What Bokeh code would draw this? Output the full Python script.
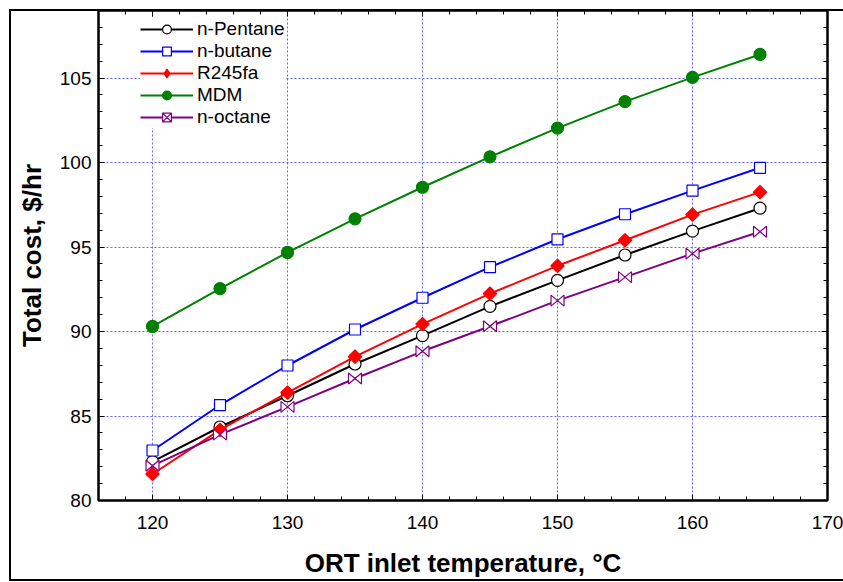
import math
from bokeh.plotting import figure
from bokeh.models import (FixedTicker, LinearAxis, Range1d, Legend, LegendItem)
from bokeh.embed import file_html
from bokeh.resources import INLINE

# ---- data ----
temps = [120, 125, 130, 135, 140, 145, 150, 155, 160, 165]
n_pentane = [82.3, 84.35, 86.2, 88.08, 89.76, 91.49, 93.03, 94.53, 95.94, 97.3]
n_butane = [82.96, 85.65, 87.99, 90.12, 92.0, 93.81, 95.46, 96.94, 98.34, 99.69]
r245fa = [81.57, 84.18, 86.39, 88.51, 90.44, 92.24, 93.89, 95.4, 96.92, 98.25]
mdm = [90.3, 92.54, 94.68, 96.67, 98.54, 100.34, 102.04, 103.61, 105.04, 106.4]
n_octane = [82.06, 83.9, 85.54, 87.22, 88.83, 90.31, 91.83, 93.22, 94.61, 95.91]

x_ticks = [120, 130, 140, 150, 160, 170]
x_minor = list(range(116, 171, 2))
y_ticks = [80, 85, 90, 95, 100, 105]
y_minor = list(range(80, 110, 1))

X_LO, X_HI = 116, 170
Y_LO, Y_HI = 80, 109

FONT = "Liberation Sans"
W, H = 843, 582
B_LEFT, B_RIGHT, B_TOP, B_BOTTOM = 98, 16, 10, 82

p = figure(width=W, height=H,
           x_range=Range1d(X_LO, X_HI), y_range=Range1d(Y_LO, Y_HI),
           output_backend="svg", toolbar_location=None,
           min_border_left=B_LEFT, min_border_right=B_RIGHT,
           min_border_top=B_TOP, min_border_bottom=B_BOTTOM)

p.outline_line_color = "black"
p.outline_line_width = 2
p.background_fill_color = "white"
p.border_fill_color = None

# outer picture frame (left, top and bottom edges) drawn behind the canvas
p.styles = {
    "background-color": "white",
    "background-image": "linear-gradient(#000,#000), linear-gradient(#000,#000), linear-gradient(#000,#000)",
    "background-size": "2px 572px, 840px 2px, 840px 2px",
    "background-position": "9px 9px, 9px 9px, 9px 579px",
    "background-repeat": "no-repeat",
}

def style_axis(ax, ticks, minor, show_labels):
    ax.ticker = FixedTicker(ticks=ticks, minor_ticks=minor)
    ax.axis_line_color = "black"
    ax.axis_line_width = 2
    ax.major_tick_in = 6
    ax.major_tick_out = 0
    ax.minor_tick_in = 4
    ax.minor_tick_out = 0
    ax.major_tick_line_color = "black"
    ax.minor_tick_line_color = "black"
    ax.major_label_text_font = FONT
    if show_labels:
        ax.major_label_text_font_size = "19px"
        ax.major_label_text_color = "black"
    else:
        ax.major_label_text_font_size = "0px"
        ax.major_label_text_color = None
        ax.major_label_standoff = 0

xa = p.xaxis[0]
ya = p.yaxis[0]
style_axis(xa, x_ticks, x_minor, True)
style_axis(ya, y_ticks, y_minor, True)
xa.major_label_standoff = 15
ya.major_label_standoff = 7
xa.axis_label = "ORT inlet temperature, °C"
ya.axis_label = "Total cost, $/hr"
for ax in (xa, ya):
    ax.axis_label_text_font = FONT
    ax.axis_label_text_font_style = "bold"
    ax.axis_label_text_font_size = "26px"
    ax.axis_label_text_color = "black"
xa.axis_label_standoff = 16
ya.axis_label_standoff = 10

top_ax = LinearAxis()
right_ax = LinearAxis()
style_axis(top_ax, x_ticks, x_minor, False)
style_axis(right_ax, y_ticks, y_minor, False)
p.add_layout(top_ax, "above")
p.add_layout(right_ax, "right")

p.xgrid.ticker = FixedTicker(ticks=x_ticks)
p.ygrid.ticker = FixedTicker(ticks=y_ticks)
for g in (p.xgrid[0], p.ygrid[0]):
    g.grid_line_color = "#6464ff"
    g.grid_line_width = 1
    g.grid_line_dash = "2 2"

items = []
NAN = float("nan")

def legend_marker(color, fill, marker, size):
    # legend-only glyph: a single NaN point, so nothing is drawn in the plot
    return p.scatter(x=[NAN], y=[NAN], marker=marker, size=size,
                     line_color=color, fill_color=fill, line_width=1.2)

def series(label, ys, color, marker, size, fill, angle=0.0, leg=None):
    ln = p.line(temps, ys, line_color=color, line_width=2)
    sc = p.scatter(temps, ys, marker=marker, size=size, line_color=color,
                   fill_color=fill, line_width=1.2, angle=angle)
    rs = [ln, sc]
    if leg is not None:
        rs = [ln, legend_marker(color, fill, leg[0], leg[1])]
    items.append(LegendItem(label=label, renderers=rs))

series("n-Pentane", n_pentane, "black", "circle", 12, "white")
series("n-butane", n_butane, "blue", "square", 11, "white")
series("R245fa", r245fa, "red", "square", 9.5, "red", angle=math.pi / 4,
       leg=("diamond", 15))
series("MDM", mdm, "green", "circle", 12, "green")

# n-octane: line + bow-tie markers (size given in screen pixels)
frame_w = W - B_LEFT - B_RIGHT
frame_h = H - B_TOP - B_BOTTOM
hx = 6.5 * (X_HI - X_LO) / frame_w
hy = 5.5 * (Y_HI - Y_LO) / frame_h
ln8 = p.line(temps, n_octane, line_color="purple", line_width=2)
bx = [[t - hx, t + hx, t + hx, t - hx] for t in temps]
by = [[v - hy, v + hy, v - hy, v + hy] for v in n_octane]
p.patches(bx, by, fill_color="white", line_color="purple", line_width=1.2)
items.append(LegendItem(label="n-octane",
                        renderers=[ln8, legend_marker("purple", "white", "square_x", 12)]))

legend = Legend(items=items, location=(42, 372))
legend.label_text_font = FONT
legend.label_text_font_size = "19px"
legend.label_text_color = "black"
legend.glyph_width = 53
legend.glyph_height = 22
legend.label_height = 22
legend.label_standoff = 4
legend.spacing = 0
legend.padding = 0
legend.margin = 0
legend.border_line_color = None
legend.background_fill_color = "white"
legend.background_fill_alpha = 1.0
p.add_layout(legend)

open("out.html", "w").write(file_html(p, INLINE))
